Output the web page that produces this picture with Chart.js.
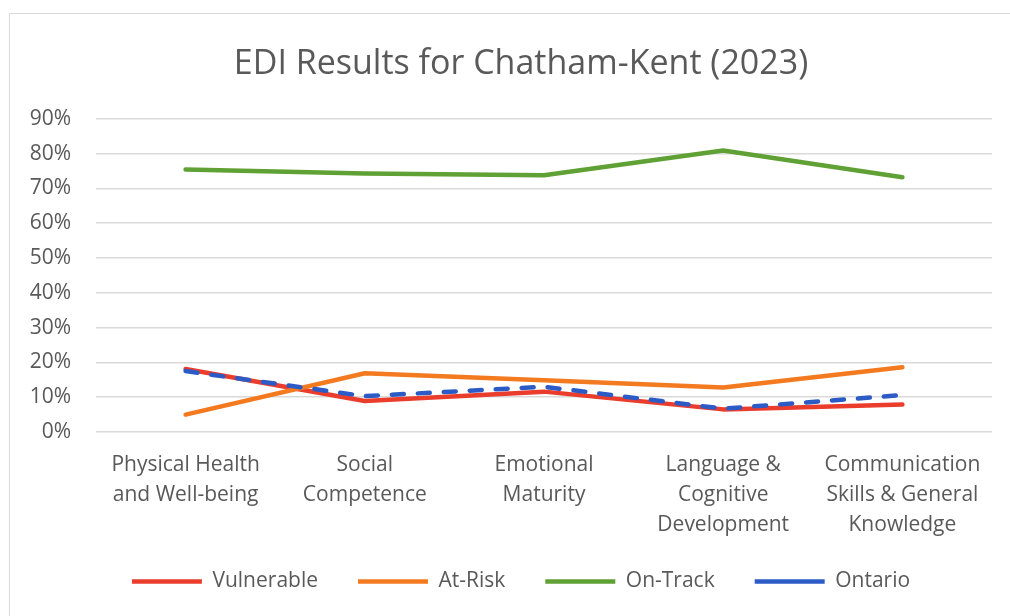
<!DOCTYPE html>
<html>
<head>
<meta charset="utf-8">
<script src="https://cdn.jsdelivr.net/npm/chart.js@4/dist/chart.umd.min.js"></script>
<style>
  html, body { margin: 0; padding: 0; background: #fff; }
  #wrap { position: relative; width: 1010px; height: 616px; overflow: hidden; }
  #frame { position: absolute; left: 9px; top: 13px; width: 1100px; height: 700px; border: 1.5px solid #d9d9d9; }
  #chart { position: absolute; left: 0; top: 0; }
</style>
</head>
<body>
<div id="wrap">
  <div id="frame"></div>
  <canvas id="chart" width="1010" height="616"></canvas>
</div>
<script>
const categories = [
  ["Physical Health", "and Well-being"],
  ["Social", "Competence"],
  ["Emotional", "Maturity"],
  ["Language &", "Cognitive", "Development"],
  ["Communication", "Skills & General", "Knowledge"]
];

// percent values
const vulnerable = [18.1, 8.9, 11.6, 6.5, 7.9];
const atRisk = [5.0, 16.9, 14.9, 12.8, 18.6];
const onTrack = [75.4, 74.3, 73.8, 80.9, 73.2];
const ontario = [17.5, 10.3, 13.0, 6.7, 10.6];

const yTicks = [0, 10, 20, 30, 40, 50, 60, 70, 80, 90];

const textColor = "#595959";
const fontFamily = "'Open Sans', sans-serif";

function line(label, data, color, order, dash) {
  return {
    label: label,
    data: data,
    borderColor: color,
    backgroundColor: color,
    borderWidth: 4.5,
    borderDash: dash || [],
    borderCapStyle: "round",
    borderJoinStyle: "round",
    pointRadius: 0,
    pointHoverRadius: 0,
    tension: 0,
    fill: false,
    order: order
  };
}

// axis boxes are squeezed, so don't clip their labels to them
const noClip = s => { s._computeLabelArea = () => undefined; };

new Chart(document.getElementById("chart"), {
  type: "line",
  data: {
    labels: categories,
    datasets: [
      line("Vulnerable", vulnerable, "#ea3d2b", 4),
      line("At-Risk", atRisk, "#f47a20", 3),
      line("On-Track", onTrack, "#5fa134", 2),
      line("Ontario", ontario, "#2c5bc6", 1, [12, 14])
    ]
  },
  options: {
    responsive: false,
    animation: false,
    layout: { padding: { left: 50, right: 18, top: 0, bottom: 14 } },
    scales: {
      x: {
        offset: true,
        grid: { display: false },
        border: { display: false },
        ticks: {
          color: textColor,
          font: { family: fontFamily, size: 21, lineHeight: 1.43 },
          maxRotation: 0,
          autoSkip: false,
          padding: 10
        },
        afterFit: s => { s.height = 99; noClip(s); }
      },
      y: {
        min: 0,
        max: 90,
        afterBuildTicks: s => { s.ticks = yTicks.map(v => ({ value: v })); },
        grid: { color: "#d9d9d9", lineWidth: 1.5, drawTicks: false },
        border: { display: false },
        ticks: {
          color: textColor,
          font: { family: fontFamily, size: 21 },
          padding: 25,
          callback: v => v + "%"
        },
        afterFit: s => { s.width = 46; noClip(s); }
      }
    },
    plugins: {
      title: {
        display: true,
        text: "EDI Results for Chatham-Kent (2023)",
        color: textColor,
        font: { family: fontFamily, size: 34, weight: "normal" },
        padding: { top: 44, bottom: 34 }
      },
      legend: {
        position: "bottom",
        labels: {
          color: textColor,
          font: { family: fontFamily, size: 21 },
          usePointStyle: true,
          pointStyle: "line",
          pointStyleWidth: 70,
          boxHeight: 21,
          padding: 40,
          sort: (a, b) => a.datasetIndex - b.datasetIndex
        }
      },
      tooltip: { enabled: false }
    }
  }
});
</script>
</body>
</html>
